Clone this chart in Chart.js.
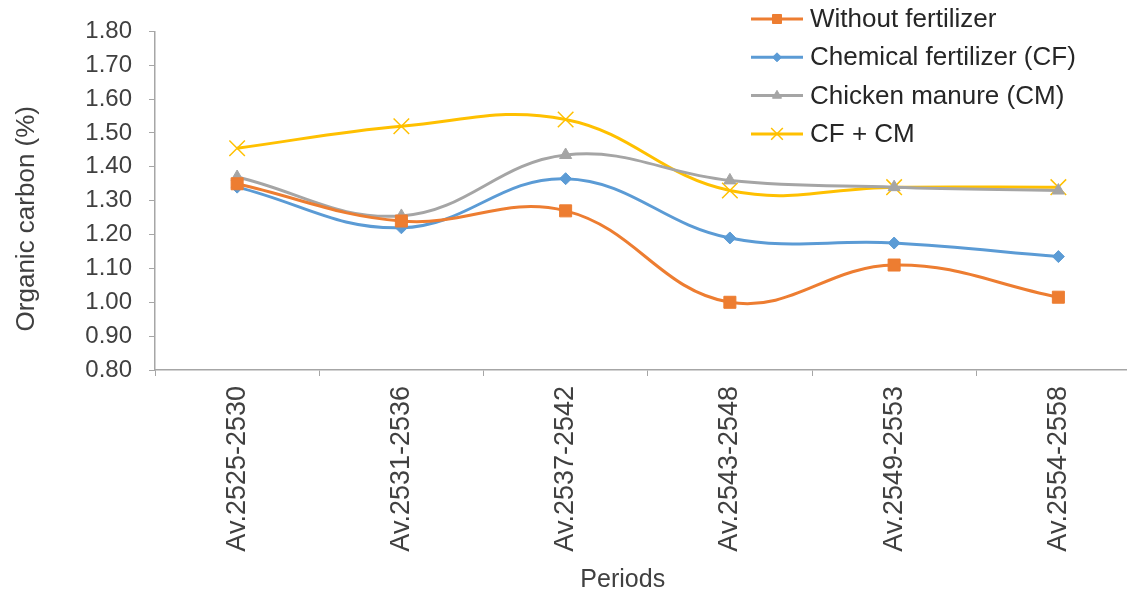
<!DOCTYPE html>
<html>
<head>
<meta charset="utf-8">
<script src="https://cdn.jsdelivr.net/npm/chart.js@4"></script>
<style>
  html, body { margin: 0; padding: 0; background: #fff; overflow: hidden; }
  #wrap { width: 1153px; height: 594px; position: relative; }
</style>
</head>
<body>
<div id="wrap"><canvas id="chartCanvas"></canvas></div>
<script>
const periods = ['Av.2525-2530', 'Av.2531-2536', 'Av.2537-2542', 'Av.2543-2548', 'Av.2549-2553', 'Av.2554-2558'];
const withoutFertilizer = [1.35, 1.24, 1.27, 1.00, 1.11, 1.015];
const chemicalFertilizer = [1.34, 1.22, 1.365, 1.19, 1.175, 1.135];
const chickenManure = [1.37, 1.255, 1.435, 1.36, 1.34, 1.33];
const cfPlusCm = [1.455, 1.52, 1.54, 1.33, 1.34, 1.34];
const yTicks = [0.8, 0.9, 1.0, 1.1, 1.2, 1.3, 1.4, 1.5, 1.6, 1.7, 1.8];

const FONT = "'Liberation Sans', Arial, sans-serif";
const textColor = '#404040';
const axisColor = '#a6a6a6';

// nudge an axis title a little (excel does not center them exactly on the plot)
function shifted(scale, method, dx, dy) {
  if (scale['_sh_' + method]) return;
  const orig = scale[method].bind(scale);
  scale[method] = function (...args) {
    const c = scale.ctx;
    c.save();
    c.translate(dx, dy);
    orig(...args);
    c.restore();
  };
  scale['_sh_' + method] = true;
}

// legend drawn by hand so it can sit in the top right corner over the plot
const legendPlugin = {
  id: 'cornerLegend',
  afterDraw: (chart) => {
    const ctx = chart.ctx;
    ctx.save();
    chart.data.datasets.forEach((ds, i) => {
      const y = 19 + i * 38.3;
      ctx.beginPath();
      ctx.moveTo(751, y);
      ctx.lineTo(803, y);
      ctx.lineWidth = 3;
      ctx.strokeStyle = ds.borderColor;
      ctx.stroke();
      ctx.fillStyle = ds.borderColor;
      ctx.strokeStyle = ds.borderColor;
      ctx.lineWidth = ds.pointBorderWidth;
      Chart.helpers.drawPoint(ctx, {
        pointStyle: ds.pointStyle,
        radius: ds.pointRadius * 0.75,
        rotation: 0,
        borderWidth: ds.pointBorderWidth
      }, 777, y);
      ctx.fillStyle = '#262626';
      ctx.font = '26px ' + FONT;
      ctx.textBaseline = 'middle';
      ctx.textAlign = 'left';
      ctx.fillText(ds.label, 810, y + 1);
    });
    ctx.restore();
  }
};

function makeSet(label, data, color, style, radius) {
  return {
    label: label,
    data: data,
    borderColor: color,
    backgroundColor: color,
    pointBackgroundColor: color,
    pointBorderColor: color,
    pointStyle: style,
    pointRadius: radius,
    pointHoverRadius: radius,
    pointBorderWidth: style === 'crossRot' ? 1.5 : 1,
    borderWidth: 3,
    tension: 0.4,
    fill: false
  };
}

const ctx = document.getElementById('chartCanvas').getContext('2d');
new Chart(ctx, {
  type: 'line',
  data: {
    labels: periods,
    datasets: [
      makeSet('Without fertilizer', withoutFertilizer, '#ED7D31', 'rect', 8.5),
      makeSet('Chemical fertilizer (CF)', chemicalFertilizer, '#5B9BD5', 'rectRot', 6),
      makeSet('Chicken manure (CM)', chickenManure, '#A5A5A5', 'triangle', 7),
      makeSet('CF + CM', cfPlusCm, '#FFC000', 'crossRot', 11)
    ]
  },
  options: {
    responsive: true,
    maintainAspectRatio: false,
    animation: false,
    layout: { padding: { top: 30, right: 0, left: 0, bottom: 0 } },
    scales: {
      x: {
        offset: true,
        grid: { display: true, drawOnChartArea: false, offset: true, tickLength: 6, color: axisColor, lineWidth: 1 },
        border: { color: axisColor, width: 1.5 },
        ticks: {
          color: textColor,
          font: { size: 27, family: FONT },
          maxRotation: 90,
          minRotation: 90,
          padding: 10,
          autoSkip: false
        },
        title: {
          display: true,
          text: 'Periods',
          color: textColor,
          font: { size: 25, family: FONT },
          padding: { top: 0, bottom: 0 }
        },
        afterFit: (scale) => { scale.height = 224; },
        afterUpdate: (scale) => { shifted(scale, 'drawTitle', -25, 1); }
      },
      y: {
        min: 0.8,
        max: 1.8,
        afterBuildTicks: (scale) => { scale.ticks = yTicks.map(v => ({ value: v })); },
        grid: { display: true, drawOnChartArea: false, tickLength: 6, color: axisColor },
        border: { color: axisColor, width: 1.5 },
        ticks: {
          color: textColor,
          font: { size: 24, family: FONT },
          padding: 17,
          callback: (v) => Number(v).toFixed(2)
        },
        title: {
          display: true,
          text: 'Organic carbon (%)',
          color: textColor,
          font: { size: 26, family: FONT },
          padding: { top: 11, bottom: 0 }
        },
        afterFit: (scale) => { scale.width = 155; },
        afterUpdate: (scale) => { shifted(scale, 'drawTitle', 0, 18); }
      }
    },
    plugins: {
      legend: { display: false },
      tooltip: { enabled: false }
    }
  },
  plugins: [legendPlugin]
});
</script>
</body>
</html>
